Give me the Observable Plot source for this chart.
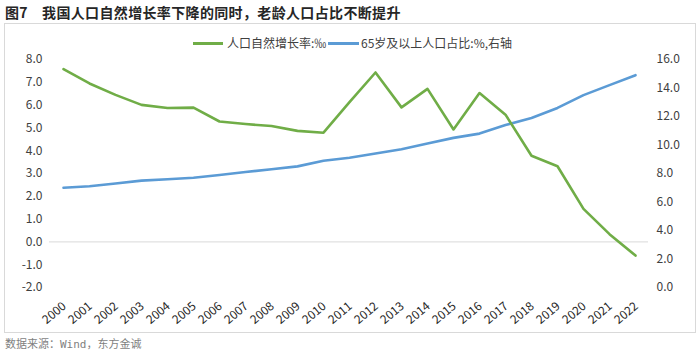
<!DOCTYPE html>
<html><head><meta charset="utf-8">
<script src="https://cdn.jsdelivr.net/npm/d3@7"></script>
<script src="https://cdn.jsdelivr.net/npm/@observablehq/plot@0.6"></script>
<style>
body{margin:0;background:#fff;font-family:"Noto Sans CJK SC","Noto Sans",sans-serif;}
#wrap{position:relative;width:700px;height:355px;overflow:hidden;}
#title{position:absolute;left:5px;top:3px;font-size:14px;font-weight:bold;color:#262626;white-space:pre;line-height:18px;letter-spacing:0.35px;}
#box{position:absolute;left:4px;top:23px;width:692px;height:310px;border:1px solid #d9d9d9;box-sizing:border-box;}
#chart{position:absolute;left:0;top:23px;}
.leg{position:absolute;top:35px;font-size:12px;color:#404040;line-height:16px;white-space:nowrap;}
.sw{position:absolute;top:42px;height:3px;}
#src{position:absolute;left:5px;top:336px;font-size:11px;color:#7f7f7f;line-height:14px;white-space:pre;}
</style></head>
<body><div id="wrap">
<div id="title">图7    我国人口自然增长率下降的同时，老龄人口占比不断提升</div>
<div id="box"></div>
<div id="chart"></div>
<div class="sw" style="left:193px;width:30px;background:#70AD47"></div>
<div class="leg" style="left:227px">人口自然增长率:‰</div>
<div class="sw" style="left:328px;width:31px;background:#5B9BD5"></div>
<div class="leg" style="left:361px">65岁及以上人口占比:%,右轴</div>
<div id="src">数据来源：<span style="font-family:'DejaVu Sans Mono',monospace">Wind</span>，东方金诚</div>
</div>
<script>
const years = ["2000","2001","2002","2003","2004","2005","2006","2007","2008","2009","2010","2011","2012","2013","2014","2015","2016","2017","2018","2019","2020","2021","2022"];
const growthRate = [7.58,6.95,6.45,6.01,5.87,5.89,5.28,5.17,5.08,4.87,4.79,6.13,7.43,5.90,6.71,4.93,6.53,5.58,3.78,3.32,1.45,0.34,-0.60];
const aged65Share = [7.0,7.1,7.3,7.5,7.6,7.7,7.9,8.1,8.3,8.5,8.9,9.1,9.4,9.7,10.1,10.5,10.8,11.4,11.9,12.6,13.5,14.2,14.9];
const leftTicks = [-2,-1,0,1,2,3,4,5,6,7,8];
const rightTicks = [0,2,4,6,8,10,12,14,16];

// right axis (0..16) mapped onto left scale (-2..8)
const toLeft = v => v / 1.6 - 2;
const toRight = d => (d + 2) * 1.6;

const green = years.map((y, i) => ({year: y, v: growthRate[i]}));
const blue = years.map((y, i) => ({year: y, v: toLeft(aged65Share[i])}));

const chart = Plot.plot({
  width: 700, height: 310,
  marginLeft: 49, marginRight: 52, marginTop: 36, marginBottom: 46,
  style: {fontFamily: '"Noto Sans CJK SC","Noto Sans",sans-serif', fontSize: "12px", color: "#404040", background: "transparent"},
  x: {type: "point", domain: years, padding: 0.5, axis: null},
  y: {domain: [-2, 8], axis: null},
  marks: [
    Plot.ruleY([0], {stroke: "#d9d9d9", strokeWidth: 1}),
    Plot.axisY(leftTicks, {anchor: "left", tickSize: 0, tickPadding: 7, tickFormat: d => d.toFixed(1), label: null, fill: "#404040"}),
    Plot.axisY(rightTicks.map(toLeft), {anchor: "right", tickSize: 0, tickPadding: 8, tickFormat: d => toRight(d).toFixed(1), label: null, fill: "#404040"}),
    Plot.text(years, {x: d => d, frameAnchor: "bottom", rotate: -40, textAnchor: "end", lineAnchor: "middle", dx: 1, dy: 17, fill: "#262626", fontSize: 12}),
    Plot.line(blue, {x: "year", y: "v", stroke: "#5B9BD5", strokeWidth: 2.6}),
    Plot.line(green, {x: "year", y: "v", stroke: "#70AD47", strokeWidth: 2.6})
  ]
});
document.getElementById("chart").appendChild(chart);
</script>
</body></html>
